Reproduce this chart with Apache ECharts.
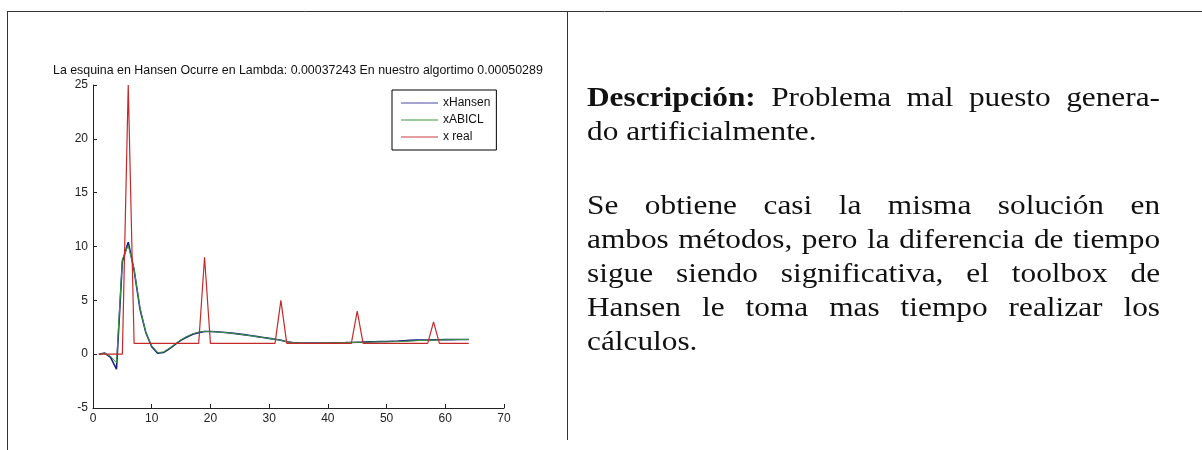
<!DOCTYPE html>
<html>
<head>
<meta charset="utf-8">
<script src="https://cdn.jsdelivr.net/npm/echarts@6/dist/echarts.min.js"></script>
<style>
  html, body { margin: 0; padding: 0; background: #fff; }
  #chart { position: absolute; left: 0; top: 0; width: 1202px; height: 450px; }
  #desc { position: absolute; left: 587px; top: 0; width: 494px; height: 450px;
          transform: scaleX(1.16); transform-origin: 0 0; }
  .ln { position: absolute; left: 0; width: 494px; height: 34px; line-height: 34px;
        font-family: 'Liberation Serif', 'Times New Roman', serif; font-size: 27px; color: #111;
        white-space: nowrap; }
  .j { text-align: justify; text-align-last: justify; }
</style>
</head>
<body>
<div id="chart"></div>
<div id="desc">
<div class="ln j" style="top:80px"><b>Descripción:</b> Problema mal puesto genera-</div>
<div class="ln" style="top:114px">do artificialmente.</div>
<div class="ln j" style="top:188px">Se obtiene casi la misma solución en</div>
<div class="ln j" style="top:222px">ambos métodos, pero la diferencia de tiempo</div>
<div class="ln j" style="top:256px">sigue siendo significativa, el toolbox de</div>
<div class="ln j" style="top:290px">Hansen le toma mas tiempo realizar los</div>
<div class="ln" style="top:324px">cálculos.</div>
</div>
<script>
// ---- data ----
const titleText = 'La esquina en Hansen Ocurre en Lambda: 0.00037243 En nuestro algortimo 0.00050289';
const seriesNames = ['xHansen', 'xABICL', 'x real'];
const xIndex = [1,2,3,4,5,6,7,8,9,10,11,12,13,14,15,16,17,18,19,20,21,22,23,24,25,26,27,28,29,30,31,32,
                33,34,35,36,37,38,39,40,41,42,43,44,45,46,47,48,49,50,51,52,53,54,55,56,57,58,59,60,61,62,63,64];
const xHansen = [0, 0.1, -0.3, -1.4, 8.6, 10.4, 7.8, 4.2, 2.0, 0.7, 0.1, 0.15, 0.5, 0.9, 1.3, 1.6,
                 1.85, 2.0, 2.1, 2.1, 2.08, 2.04, 1.99, 1.93, 1.86, 1.79, 1.71, 1.63, 1.55, 1.47, 1.39, 1.3,
                 1.15, 1.08, 1.05, 1.04, 1.03, 1.03, 1.03, 1.04, 1.05, 1.06, 1.07, 1.09, 1.11, 1.12,
                 1.14, 1.16, 1.17, 1.18, 1.2, 1.22, 1.25, 1.28, 1.3, 1.31, 1.32, 1.33, 1.34, 1.35, 1.35, 1.36, 1.36, 1.36];
const xABICL = [0, 0.08, -0.2, -0.8, 8.8, 10.1, 7.9, 4.3, 2.0, 0.75, 0.15, 0.2, 0.55, 0.95, 1.35, 1.65,
                1.9, 2.05, 2.12, 2.1, 2.07, 2.03, 1.98, 1.92, 1.85, 1.78, 1.7, 1.62, 1.54, 1.46, 1.38, 1.29,
                1.14, 1.07, 1.04, 1.03, 1.02, 1.02, 1.03, 1.04, 1.05, 1.06, 1.07, 1.08, 1.1, 1.11,
                1.12, 1.13, 1.14, 1.15, 1.16, 1.17, 1.19, 1.22, 1.25, 1.28, 1.3, 1.31, 1.33, 1.34, 1.35, 1.35, 1.36, 1.36];
const xReal = [0, 0, 0, 0, 0, 25, 1, 1, 1, 1, 1, 1, 1, 1, 1, 1, 1, 1, 9, 1, 1, 1, 1, 1, 1, 1, 1, 1, 1, 1, 1, 5,
               1, 1, 1, 1, 1, 1, 1, 1, 1, 1, 1, 1, 4, 1, 1, 1, 1, 1, 1, 1, 1, 1, 1, 1, 1, 3, 1, 1, 1, 1, 1, 1];
const xTicks = [0, 10, 20, 30, 40, 50, 60, 70];
const yTicks = [-5, 0, 5, 10, 15, 20, 25];

const pairs = (ys) => xIndex.map((x, i) => [x, ys[i]]);

const chart = echarts.init(document.getElementById('chart'), null, { renderer: 'canvas' });
const font = 'Liberation Sans, Arial, sans-serif';
chart.setOption({
  animation: false,
  backgroundColor: '#fff',
  title: {
    text: titleText, left: 53, top: 65, padding: 0,
    textStyle: { fontFamily: font, fontSize: 12.4, fontWeight: 'normal', color: '#111' }
  },
  legend: {
    data: seriesNames, orient: 'vertical', left: 392, top: 90,
    padding: [6, 6, 6, 9], itemGap: 3, itemWidth: 37, itemHeight: 1.2, icon: 'rect',
    borderColor: '#000', borderWidth: 1, backgroundColor: '#fff',
    textStyle: { fontFamily: font, fontSize: 12, color: '#111', lineHeight: 14 }
  },
  grid: { left: 93, top: 85, width: 411, height: 323, containLabel: false },
  xAxis: {
    type: 'value', min: xTicks[0], max: xTicks[xTicks.length - 1], interval: 10,
    axisLine: { onZero: false, lineStyle: { color: '#222', width: 1 } },
    axisTick: { inside: true, length: 4, lineStyle: { color: '#222' } },
    axisLabel: { fontFamily: font, fontSize: 12, color: '#222', margin: 5 },
    splitLine: { show: false }
  },
  yAxis: {
    type: 'value', min: yTicks[0], max: yTicks[yTicks.length - 1], interval: 5,
    axisLine: { show: true, onZero: false, lineStyle: { color: '#222', width: 1 } },
    axisTick: { show: true, inside: true, length: 4, lineStyle: { color: '#222' } },
    axisLabel: { fontFamily: font, fontSize: 12, color: '#222', margin: 5 },
    splitLine: { show: false }
  },
  series: [
    { name: seriesNames[0], type: 'line', data: pairs(xHansen), showSymbol: false, symbol: 'none',
      lineStyle: { color: '#1c1c86', width: 1.6 }, itemStyle: { color: '#4a4aa8' }, z: 2 },
    { name: seriesNames[1], type: 'line', data: pairs(xABICL), showSymbol: false, symbol: 'none',
      lineStyle: { color: '#3a9a3a', width: 1 }, itemStyle: { color: '#3a9a3a' }, z: 3 },
    { name: seriesNames[2], type: 'line', data: pairs(xReal), showSymbol: false, symbol: 'none',
      lineStyle: { color: '#c42a2a', width: 1.2 }, itemStyle: { color: '#c84040' }, z: 4 }
  ],
  graphic: [
    { type: 'line', shape: { x1: 7, y1: 11.5, x2: 1202, y2: 11.5 }, style: { stroke: '#333', lineWidth: 1 } },
    { type: 'line', shape: { x1: 7.5, y1: 11, x2: 7.5, y2: 450 }, style: { stroke: '#333', lineWidth: 1 } },
    { type: 'line', shape: { x1: 567.5, y1: 11, x2: 567.5, y2: 440 }, style: { stroke: '#333', lineWidth: 1 } }
  ]
});
</script>
</body>
</html>
